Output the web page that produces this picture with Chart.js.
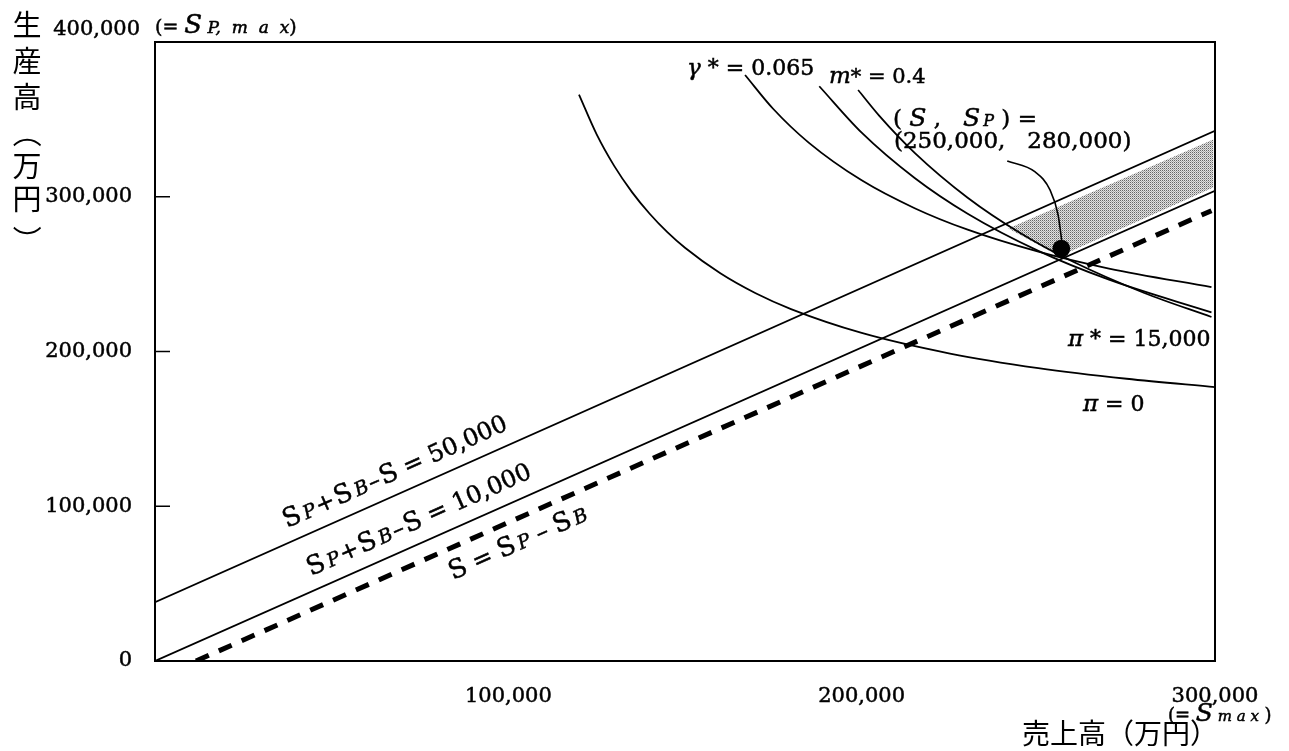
<!DOCTYPE html>
<html>
<head>
<meta charset="utf-8">
<script src="https://cdn.jsdelivr.net/npm/chart.js@4.4.1/dist/chart.umd.min.js"></script>
<style>
  html, body { margin: 0; padding: 0; background: #fff; }
  canvas { display: block; }
</style>
</head>
<body>
<canvas id="chart" width="1289" height="751"></canvas>
<script>
// 売上高 S (x) と 生産高 SP (y)、単位：万円
const xTickValues = [0, 100000, 200000, 300000];
const yTickValues = [0, 100000, 200000, 300000, 400000];

// 直線
const line50X = [0, 300000];
const line50Y = [38000, 342600];
const line10X = [0, 300000];
const line10Y = [0, 303900];
const dashX = [11600, 299000];
const dashY = [0, 291000];

// 曲線
const piZeroX = [120000, 125000, 130000, 135000, 140000, 145000, 150000, 160000, 170000, 180000, 200000, 225000, 250000, 275000, 300000];
const piZeroY = [366000, 340300, 319800, 303000, 289000, 277100, 267000, 250500, 237600, 227400, 212000, 198700, 189300, 182400, 177000];
const gammaX = [167000, 175000, 185000, 200000, 215000, 230000, 250000, 270000, 299000];
const gammaY = [378700, 356700, 335000, 310600, 292600, 278700, 264500, 253600, 241600];
const mX = [188000, 200000, 215000, 230000, 250000, 270000, 299000];
const mY = [371400, 341400, 312100, 289000, 265000, 246400, 225300];
const piStarX = [199000, 205000, 215000, 230000, 245000, 260000, 280000, 299000];
const piStarY = [369000, 352300, 328400, 299400, 276400, 257800, 237800, 222300];

// 実行可能領域（網掛け）
const shadeX = [241500, 299500, 299500, 256000, 241500];
const shadeY = [279500, 337000, 306000, 261500, 279500];

// 最適点と引き出し線
const optX = [256500];
const optY = [266500];
const leaderX = [241200, 249100, 253300, 255600, 256600];
const leaderY = [323100, 316000, 304400, 288200, 272000];

const SERIF = '"DejaVu Serif", "Liberation Serif", serif';
const JP = '"Noto Sans CJK JP", "Noto Sans CJK SC", sans-serif';

function pts(xs, ys) {
    return xs.map((x, i) => ({x: x, y: ys[i]}));
}

function makeShadePattern() {
    const c = document.createElement('canvas');
    c.width = 2;
    c.height = 2;
    const g = c.getContext('2d');
    g.fillStyle = '#e2e2e2';
    g.fillRect(0, 0, 2, 2);
    g.fillStyle = '#666';
    g.fillRect(0, 0, 1, 1);
    g.fillStyle = '#aaa';
    g.fillRect(1, 1, 1, 1);
    return document.getElementById('chart').getContext('2d').createPattern(c, 'repeat');
}

function curve(xs, ys, extra) {
    return Object.assign({
        data: pts(xs, ys),
        showLine: true,
        borderColor: '#000',
        borderWidth: 1.8,
        pointRadius: 0,
        cubicInterpolationMode: 'monotone',
        fill: false,
        order: 2
    }, extra || {});
}

// 文字列を部品ごとに描く（添字は小さい斜体）
function drawRich(ctx, x, y, angle, parts) {
    ctx.save();
    ctx.translate(x, y);
    ctx.rotate(angle);
    ctx.textAlign = 'left';
    ctx.textBaseline = 'alphabetic';
    ctx.fillStyle = '#000';
    ctx.strokeStyle = '#000';
    ctx.lineWidth = 0.5;
    let cx = 0;
    parts.forEach(p => {
        ctx.font = p[1];
        ctx.fillText(p[0], cx, p[2] || 0);
        ctx.strokeText(p[0], cx, p[2] || 0);
        cx += ctx.measureText(p[0]).width;
    });
    ctx.restore();
}

const labelPlugin = {
    id: 'labels',
    afterDraw(chart) {
        const ctx = chart.ctx;
        const a = chart.chartArea;
        const ys = chart.scales.y;

        // 枠
        ctx.save();
        ctx.strokeStyle = '#000';
        ctx.lineWidth = 2;
        ctx.strokeRect(a.left, a.top, a.right - a.left, a.bottom - a.top);
        ctx.lineWidth = 1.5;
        [100000, 200000, 300000].forEach(v => {
            const py = ys.getPixelForValue(v);
            ctx.beginPath();
            ctx.moveTo(a.left, py);
            ctx.lineTo(a.left + 15, py);
            ctx.stroke();
        });
        ctx.restore();

        const n = size => size + 'px ' + SERIF;
        const it = size => 'italic ' + size + 'px ' + SERIF;
        const ang = -Math.atan2(472, 1060);

        drawRich(ctx, 287, 528, ang, [
            ['S', n(26)], [' ', n(10)], ['P', it(19)], [' ', n(5)], ['+', n(23)], [' ', n(5)], ['S', n(26)],
            [' ', n(10)], ['B', it(19)], [' ', n(5)], ['–', n(23)], [' ', n(5)], ['S', n(26)], [' = 50,000', n(24)]
        ]);
        drawRich(ctx, 311, 576, ang, [
            ['S', n(26)], [' ', n(10)], ['P', it(19)], [' ', n(5)], ['+', n(23)], [' ', n(5)], ['S', n(26)],
            [' ', n(10)], ['B', it(19)], [' ', n(5)], ['–', n(23)], [' ', n(5)], ['S', n(26)], [' = 10,000', n(24)]
        ]);
        drawRich(ctx, 453, 580, ang, [
            ['S', n(26)], [' = ', n(24)], ['S', n(26)], [' ', n(10)], ['P', it(19)], [' – ', n(24)],
            ['S', n(26)], [' ', n(10)], ['B', it(19)]
        ]);

        drawRich(ctx, 687, 75, 0, [['γ', it(23)], [' * = 0.065', n(22)]]);
        drawRich(ctx, 829, 83, 0, [['m', it(23)], ['* = 0.4', n(21)]]);
        drawRich(ctx, 893, 126, 0, [['( ', n(23)], ['S', it(25)], [' ,   ', n(23)], ['S', it(25)], [' ', n(10)],
            ['P', it(16)], [' ) =', n(23)]]);
        drawRich(ctx, 894, 148, 0, [['(250,000,   280,000)', n(23)]]);
        drawRich(ctx, 1068, 346, 0, [['π', it(23)], [' * = 15,000', n(22)]]);
        drawRich(ctx, 1083, 411, 0, [['π', it(23)], [' = 0', n(22)]]);

        // 軸の上限の注記
        ctx.save();
        ctx.font = n(21);
        ctx.fillStyle = '#000';
        ctx.strokeStyle = '#000';
        ctx.lineWidth = 0.5;
        ctx.textAlign = 'right';
        ctx.fillText('400,000', 140, 35);
        ctx.strokeText('400,000', 140, 35);
        ctx.restore();
        drawRich(ctx, 155, 33, 0, [['(= ', n(19)], ['S', it(26)], [' P, ', it(17)], [' m  a  x', it(17)], [')', n(19)]]);
        drawRich(ctx, 1168, 721, 0, [['(= ', n(18)], ['S', it(25)], [' m a x', it(15)], [' )', n(18)]]);

        // 軸タイトル（縦書き）
        ctx.save();
        ctx.fillStyle = '#000';
        ctx.font = '29px ' + JP;
        ctx.textAlign = 'center';
        ctx.textBaseline = 'middle';
        const yTitle = [['生', 25], ['産', 61], ['高', 97], ['万', 166], ['円', 199]];
        yTitle.forEach(c => ctx.fillText(c[0], 27, c[1]));
        [['（', 133], ['）', 240]].forEach(c => {
            ctx.save();
            ctx.translate(27, c[1]);
            ctx.rotate(Math.PI / 2);
            ctx.fillText(c[0], 0, 0);
            ctx.restore();
        });
        ctx.textAlign = 'left';
        ctx.textBaseline = 'alphabetic';
        ctx.font = '28px ' + JP;
        ctx.fillText('売上高（万円）', 1022, 744);
        ctx.restore();
    }
};

const ctx = document.getElementById('chart').getContext('2d');

new Chart(ctx, {
    type: 'scatter',
    data: {
        datasets: [
            curve(optX, optY, {showLine: false, pointRadius: 8, backgroundColor: '#000', order: 0}),
            curve(leaderX, leaderY, {borderWidth: 1.6, order: 1}),
            curve(line50X, line50Y, {cubicInterpolationMode: 'default'}),
            curve(line10X, line10Y, {cubicInterpolationMode: 'default'}),
            curve(dashX, dashY, {cubicInterpolationMode: 'default', borderWidth: 5, borderDash: [14, 11]}),
            curve(piZeroX, piZeroY),
            curve(gammaX, gammaY),
            curve(mX, mY),
            curve(piStarX, piStarY),
            curve(shadeX, shadeY, {
                cubicInterpolationMode: 'default', borderWidth: 0, tension: 0,
                fill: 'shape', backgroundColor: makeShadePattern(), order: 10
            })
        ]
    },
    options: {
        responsive: false,
        animation: false,
        devicePixelRatio: 1,
        layout: {padding: {top: 42, right: 74, left: 0, bottom: 0}},
        plugins: {legend: {display: false}, tooltip: {enabled: false}},
        scales: {
            x: {
                type: 'linear', min: 0, max: 300000,
                afterBuildTicks: s => { s.ticks = xTickValues.map(v => ({value: v})); },
                afterFit: s => { s.height = 90; },
                grid: {display: false},
                border: {display: false},
                ticks: {
                    color: '#000', padding: 15, maxRotation: 0,
                    textStrokeColor: '#000', textStrokeWidth: 0.5,
                    font: {family: SERIF, size: 21},
                    callback: v => v === 0 ? '' : v.toLocaleString('en-US')
                }
            },
            y: {
                type: 'linear', min: 0, max: 400000,
                afterBuildTicks: s => { s.ticks = yTickValues.map(v => ({value: v})); },
                afterFit: s => { s.width = 155; },
                grid: {display: false},
                border: {display: false},
                ticks: {
                    color: '#000', padding: 15,
                    textStrokeColor: '#000', textStrokeWidth: 0.5,
                    font: {family: SERIF, size: 21},
                    callback: v => v === 400000 ? '' : v.toLocaleString('en-US')
                }
            }
        }
    },
    plugins: [labelPlugin]
});
</script>
</body>
</html>
